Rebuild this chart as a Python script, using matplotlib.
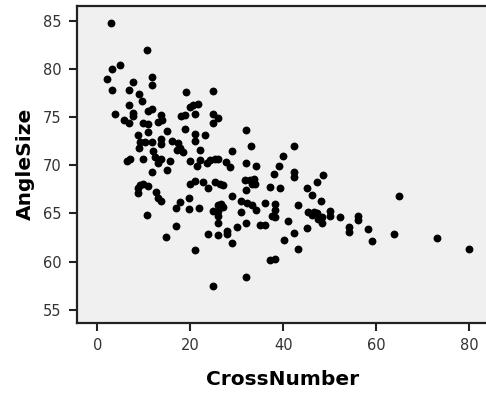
import numpy as np
import matplotlib
matplotlib.use("Agg")
import matplotlib.pyplot as plt

# values
cross_number = [
    2.9, 10.8, 4.8, 3.1, 2.1, 7.7, 11.8, 11.8, 3.1, 6.8,
    8.9, 9.7, 6.8, 19.0, 3.8, 5.8, 6.8, 7.7, 7.7, 10.9,
    11.7, 9.9, 10.9, 13.6, 13.1, 14.0, 15.0, 10.9, 8.8, 9.1,
    10.2, 11.7, 13.8, 13.8, 16.0, 17.3, 17.8, 18.4, 17.1, 17.9,
    18.8, 18.8, 19.9, 20.6, 21.7, 21.0, 21.0, 23.1, 21.0, 22.1,
    9.0, 12.0, 12.4, 6.3, 7.0, 9.9, 13.8, 13.1, 15.6, 19.9,
    22.1, 24.9, 24.9, 25.9, 24.9, 32.0, 33.0, 29.0, 42.2, 40.0,
    24.2, 25.3, 26.0, 27.7, 32.0, 34.1, 39.1, 14.9, 11.8, 21.4,
    23.5, 19.9, 21.0, 22.8, 23.9, 9.1, 9.9, 10.9, 8.8, 8.8,
    12.7, 13.1, 13.8, 17.8, 16.9, 19.8, 19.8, 21.9, 10.7, 16.9,
    14.8, 23.9, 21.0, 28.5, 38.1, 42.2, 42.2, 48.6, 25.3, 26.4,
    27.1, 31.8, 32.8, 33.8, 33.9, 33.2, 32.0, 37.1, 39.3, 45.0,
    47.2, 29.0, 46.1, 48.1, 31.0, 32.1, 33.2, 34.1, 36.1, 38.2,
    38.2, 43.1, 26.0, 26.7, 27.1, 24.9, 26.0, 30.9, 37.5, 38.2,
    45.4, 46.5, 46.1, 47.2, 48.3, 47.5, 26.0, 26.0, 41.1, 35.0,
    36.1, 32.0, 30.0, 25.9, 28.0, 28.0, 45.0, 42.2, 40.2, 29.0,
    43.1, 37.1, 38.2, 32.0, 24.9, 64.9, 50.1, 50.1, 48.3, 52.2,
    54.2, 54.2, 56.1, 56.1, 58.3, 59.0, 63.8, 73.0, 80.0,
]
angle_size = [
    84.8, 82.0, 80.4, 80.0, 79.0, 78.7, 79.2, 78.3, 77.8, 77.8,
    77.4, 76.7, 76.3, 77.6, 75.3, 74.7, 74.4, 75.4, 75.1, 75.6,
    75.9, 74.4, 74.3, 75.2, 74.5, 74.7, 73.6, 73.5, 73.1, 72.4,
    72.4, 72.4, 72.7, 72.2, 72.5, 72.3, 71.8, 71.4, 71.6, 75.1,
    75.2, 73.8, 76.1, 76.3, 76.4, 75.3, 73.3, 73.1, 72.5, 71.6,
    71.8, 71.5, 70.9, 70.4, 70.7, 70.7, 70.7, 70.2, 70.4, 70.4,
    70.6, 77.7, 75.3, 74.9, 74.4, 73.7, 72.0, 71.5, 72.0, 71.0,
    70.6, 70.7, 70.7, 70.3, 70.2, 69.9, 69.9, 69.5, 69.3, 69.9,
    70.2, 68.1, 68.4, 68.3, 67.6, 68.0, 68.1, 67.8, 67.6, 67.1,
    67.2, 66.6, 66.3, 66.2, 65.6, 66.6, 65.5, 65.6, 64.8, 63.7,
    62.6, 62.9, 61.2, 69.8, 69.1, 69.3, 68.8, 69.0, 68.3, 68.1,
    68.0, 68.5, 68.5, 68.6, 68.1, 68.1, 67.4, 67.7, 67.6, 67.6,
    68.3, 66.8, 66.9, 66.3, 66.3, 66.1, 65.9, 65.4, 66.1, 66.0,
    65.4, 65.9, 65.9, 66.0, 65.7, 65.3, 65.3, 65.2, 64.7, 64.6,
    65.2, 65.2, 64.8, 65.0, 64.6, 64.4, 64.7, 64.0, 64.2, 63.8,
    63.8, 64.0, 63.6, 62.8, 63.2, 62.9, 63.5, 63.0, 62.2, 61.9,
    61.3, 60.2, 60.3, 58.4, 57.5, 66.8, 65.3, 64.7, 64.0, 64.6,
    63.6, 63.1, 64.7, 64.3, 63.4, 62.1, 62.9, 62.5, 61.3,
]
x_ticks = [0, 20, 40, 60, 80]
y_ticks = [55, 60, 65, 70, 75, 80, 85]

fig = plt.figure(figsize=(4.86, 3.97), dpi=100)
ax = fig.add_axes([0.158, 0.186, 0.846, 0.8])
ax.set_facecolor("#f0f0f0")

ax.scatter(cross_number, angle_size, s=32, c="black", linewidths=0)

ax.set_xlim(-4.4, 84.0)
ax.set_ylim(53.6, 86.6)
ax.set_xticks(x_ticks)
ax.set_yticks(y_ticks)
ax.tick_params(direction="out", length=6, width=1.5, color="#222222",
               labelsize=10.5, labelcolor="#333333", pad=5)

for side in ["left", "bottom", "top", "right"]:
    ax.spines[side].set_linewidth(1.6)
    ax.spines[side].set_color("#222222")

ax.set_xlabel("CrossNumber", fontsize=14.5, fontweight="bold", labelpad=12)
ax.set_ylabel("AngleSize", fontsize=14.5, fontweight="bold", labelpad=6)

fig.savefig("out.png", dpi=100)
